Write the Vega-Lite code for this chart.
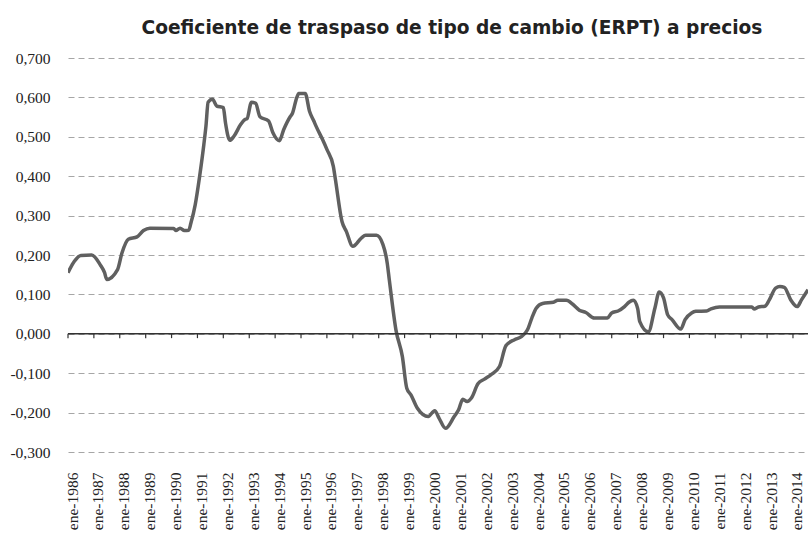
{
  "$schema": "https://vega.github.io/schema/vega-lite/v6.json",
  "width": 740,
  "height": 394,
  "autosize": {"type": "none"},
  "padding": {"left": 68, "top": 58, "right": 0, "bottom": 89},
  "background": "white",
  "view": {"stroke": null},
  "title": {
    "text": "Coeficiente de traspaso de tipo de cambio (ERPT) a precios",
    "font": "DejaVu Sans",
    "fontWeight": "bold",
    "fontSize": 18.6,
    "color": "#222222",
    "anchor": "middle",
    "frame": "group",
    "dx": 14,
    "offset": 13
  },
  "datasets": {
    "erpt": [
      {"d": "1986/01/01", "v": 0.155},
      {"d": "1986/04/01", "v": 0.184},
      {"d": "1986/07/01", "v": 0.199},
      {"d": "1986/12/01", "v": 0.200},
      {"d": "1987/04/01", "v": 0.175},
      {"d": "1987/06/01", "v": 0.155},
      {"d": "1987/07/01", "v": 0.138},
      {"d": "1987/12/01", "v": 0.163},
      {"d": "1988/02/01", "v": 0.205},
      {"d": "1988/05/01", "v": 0.240},
      {"d": "1988/09/01", "v": 0.246},
      {"d": "1988/12/01", "v": 0.262},
      {"d": "1989/03/01", "v": 0.268},
      {"d": "1990/02/01", "v": 0.267},
      {"d": "1990/03/01", "v": 0.262},
      {"d": "1990/05/01", "v": 0.268},
      {"d": "1990/07/01", "v": 0.262},
      {"d": "1990/09/01", "v": 0.263},
      {"d": "1990/10/01", "v": 0.281},
      {"d": "1990/12/01", "v": 0.328},
      {"d": "1991/02/01", "v": 0.400},
      {"d": "1991/04/01", "v": 0.480},
      {"d": "1991/05/01", "v": 0.527},
      {"d": "1991/06/01", "v": 0.588},
      {"d": "1991/08/01", "v": 0.595},
      {"d": "1991/10/01", "v": 0.578},
      {"d": "1992/01/01", "v": 0.574},
      {"d": "1992/02/01", "v": 0.535},
      {"d": "1992/04/01", "v": 0.491},
      {"d": "1992/06/01", "v": 0.502},
      {"d": "1992/09/01", "v": 0.531},
      {"d": "1992/11/01", "v": 0.544},
      {"d": "1992/12/01", "v": 0.546},
      {"d": "1993/02/01", "v": 0.588},
      {"d": "1993/04/01", "v": 0.585},
      {"d": "1993/06/01", "v": 0.551},
      {"d": "1993/10/01", "v": 0.540},
      {"d": "1993/12/01", "v": 0.510},
      {"d": "1994/03/01", "v": 0.490},
      {"d": "1994/05/01", "v": 0.518},
      {"d": "1994/08/01", "v": 0.551},
      {"d": "1994/09/01", "v": 0.559},
      {"d": "1994/11/01", "v": 0.599},
      {"d": "1994/12/01", "v": 0.610},
      {"d": "1995/03/01", "v": 0.610},
      {"d": "1995/05/01", "v": 0.565},
      {"d": "1995/07/01", "v": 0.540},
      {"d": "1995/08/01", "v": 0.527},
      {"d": "1995/11/01", "v": 0.493},
      {"d": "1996/01/01", "v": 0.468},
      {"d": "1996/04/01", "v": 0.425},
      {"d": "1996/05/01", "v": 0.391},
      {"d": "1996/08/01", "v": 0.285},
      {"d": "1996/10/01", "v": 0.260},
      {"d": "1997/01/01", "v": 0.222},
      {"d": "1997/05/01", "v": 0.243},
      {"d": "1997/07/01", "v": 0.250},
      {"d": "1997/12/01", "v": 0.250},
      {"d": "1998/03/01", "v": 0.227},
      {"d": "1998/05/01", "v": 0.180},
      {"d": "1998/06/01", "v": 0.135},
      {"d": "1998/09/01", "v": 0.010},
      {"d": "1998/12/01", "v": -0.058},
      {"d": "1999/02/01", "v": -0.138},
      {"d": "1999/04/01", "v": -0.155},
      {"d": "1999/07/01", "v": -0.189},
      {"d": "1999/12/01", "v": -0.210},
      {"d": "2000/03/01", "v": -0.195},
      {"d": "2000/05/01", "v": -0.214},
      {"d": "2000/08/01", "v": -0.240},
      {"d": "2000/12/01", "v": -0.210},
      {"d": "2001/02/01", "v": -0.193},
      {"d": "2001/04/01", "v": -0.166},
      {"d": "2001/06/01", "v": -0.172},
      {"d": "2001/08/01", "v": -0.163},
      {"d": "2001/11/01", "v": -0.127},
      {"d": "2002/02/01", "v": -0.115},
      {"d": "2002/05/01", "v": -0.104},
      {"d": "2002/09/01", "v": -0.083},
      {"d": "2002/12/01", "v": -0.030},
      {"d": "2003/04/01", "v": -0.015},
      {"d": "2003/07/01", "v": -0.008},
      {"d": "2003/10/01", "v": 0.010},
      {"d": "2003/12/01", "v": 0.040},
      {"d": "2004/02/01", "v": 0.065},
      {"d": "2004/05/01", "v": 0.077},
      {"d": "2004/10/01", "v": 0.080},
      {"d": "2004/12/01", "v": 0.085},
      {"d": "2005/04/01", "v": 0.085},
      {"d": "2005/07/01", "v": 0.075},
      {"d": "2005/10/01", "v": 0.060},
      {"d": "2006/01/01", "v": 0.054},
      {"d": "2006/05/01", "v": 0.040},
      {"d": "2006/11/01", "v": 0.040},
      {"d": "2007/01/01", "v": 0.053},
      {"d": "2007/04/01", "v": 0.058},
      {"d": "2007/07/01", "v": 0.069},
      {"d": "2007/09/01", "v": 0.080},
      {"d": "2007/11/01", "v": 0.085},
      {"d": "2008/01/01", "v": 0.065},
      {"d": "2008/02/01", "v": 0.031},
      {"d": "2008/06/01", "v": 0.005},
      {"d": "2008/09/01", "v": 0.065},
      {"d": "2008/11/01", "v": 0.106},
      {"d": "2009/01/01", "v": 0.091},
      {"d": "2009/03/01", "v": 0.048},
      {"d": "2009/05/01", "v": 0.036},
      {"d": "2009/09/01", "v": 0.012},
      {"d": "2009/11/01", "v": 0.036},
      {"d": "2010/02/01", "v": 0.053},
      {"d": "2010/04/01", "v": 0.057},
      {"d": "2010/09/01", "v": 0.058},
      {"d": "2010/11/01", "v": 0.063},
      {"d": "2011/03/01", "v": 0.068},
      {"d": "2012/06/01", "v": 0.068},
      {"d": "2012/07/01", "v": 0.063},
      {"d": "2012/09/01", "v": 0.068},
      {"d": "2012/12/01", "v": 0.070},
      {"d": "2013/02/01", "v": 0.086},
      {"d": "2013/05/01", "v": 0.116},
      {"d": "2013/07/01", "v": 0.120},
      {"d": "2013/09/01", "v": 0.118},
      {"d": "2013/12/01", "v": 0.086},
      {"d": "2014/03/01", "v": 0.069},
      {"d": "2014/05/01", "v": 0.086},
      {"d": "2014/08/01", "v": 0.112}
    ],
    "ticks": [
      {"d": "1986/01/01"}, {"d": "1987/01/01"}, {"d": "1988/01/01"}, {"d": "1989/01/01"},
      {"d": "1990/01/01"}, {"d": "1991/01/01"}, {"d": "1992/01/01"}, {"d": "1993/01/01"},
      {"d": "1994/01/01"}, {"d": "1995/01/01"}, {"d": "1996/01/01"}, {"d": "1997/01/01"},
      {"d": "1998/01/01"}, {"d": "1999/01/01"}, {"d": "2000/01/01"}, {"d": "2001/01/01"},
      {"d": "2002/01/01"}, {"d": "2003/01/01"}, {"d": "2004/01/01"}, {"d": "2005/01/01"},
      {"d": "2006/01/01"}, {"d": "2007/01/01"}, {"d": "2008/01/01"}, {"d": "2009/01/01"},
      {"d": "2010/01/01"}, {"d": "2011/01/01"}, {"d": "2012/01/01"}, {"d": "2013/01/01"},
      {"d": "2014/01/01"}
    ],
    "zero": [{"v": 0}]
  },
  "layer": [
    {
      "data": {"name": "erpt"},
      "mark": {"type": "line", "color": "#606060", "strokeWidth": 3.5, "interpolate": "monotone", "clip": true},
      "encoding": {
        "x": {
          "field": "d",
          "type": "temporal",
          "scale": {"domain": [{"year": 1986, "month": 1, "date": 1}, {"year": 2014, "month": 8, "date": 1}]},
          "axis": {
            "title": null,
            "domain": false,
            "ticks": false,
            "grid": false,
            "labelAngle": 270,
            "labelFont": "Liberation Serif",
            "labelFontSize": 15.5,
            "labelColor": "#222222",
            "labelPadding": 20,
            "labelOffset": 4,
            "labelFlush": false,
            "labelOverlap": false,
            "labelBound": false,
            "tickCount": {"interval": "year", "step": 1},
            "labelExpr": "'ene-' + timeFormat(datum.value, '%Y')"
          }
        },
        "y": {
          "field": "v",
          "type": "quantitative",
          "scale": {"domain": [-0.3, 0.7], "nice": false, "zero": false},
          "axis": {
            "title": null,
            "domain": false,
            "ticks": false,
            "values": [-0.3, -0.2, -0.1, 0, 0.1, 0.2, 0.3, 0.4, 0.5, 0.6, 0.7],
            "tickCount": 30,
            "labelOverlap": false,
            "grid": true,
            "gridDash": [6, 4],
            "gridColor": "#a6a6a6",
            "gridWidth": 1,
            "labelFont": "Liberation Serif",
            "labelFontSize": 15.5,
            "labelColor": "#222222",
            "labelPadding": 18,
            "labelExpr": "(datum.value < -0.0001 ? '-' : '') + replace(format(abs(datum.value), '.3f'), '.', ',')"
          }
        }
      }
    },
    {
      "data": {"name": "zero"},
      "mark": {"type": "rule", "color": "#333333", "strokeWidth": 1.5},
      "encoding": {"y": {"field": "v", "type": "quantitative"}}
    },
    {
      "data": {"name": "ticks"},
      "mark": {"type": "rule", "color": "#333333", "strokeWidth": 1.2},
      "encoding": {
        "x": {"field": "d", "type": "temporal"},
        "y": {"datum": 0},
        "y2": {"datum": -0.011}
      }
    }
  ]
}
